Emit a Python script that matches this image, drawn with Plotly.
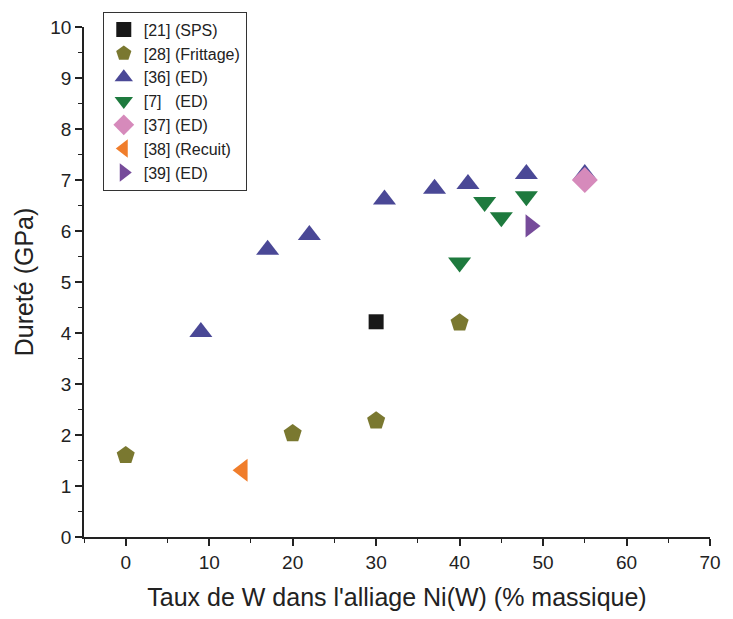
import plotly.graph_objects as go

sps_x = [30]
sps_y = [4.22]
fritt_x = [0, 20, 30, 40]
fritt_y = [1.6, 2.03, 2.28, 4.2]
ed36_x = [9, 17, 22, 31, 37, 41, 48, 55]
ed36_y = [4.02, 5.63, 5.92, 6.62, 6.83, 6.92, 7.12, 7.12]
ed7_x = [40, 43, 45, 48]
ed7_y = [5.38, 6.57, 6.27, 6.68]
ed37_x = [55]
ed37_y = [7.0]
recuit_x = [14]
recuit_y = [1.31]
ed39_x = [48.5]
ed39_y = [6.1]

series = [
    ("[21] (SPS)", sps_x, sps_y, "square", "#181818", 15),
    ("[28] (Frittage)", fritt_x, fritt_y, "pentagon", "#7a7830", 19),
    ("[36] (ED)", ed36_x, ed36_y, "triangle-up", "#4a4896", 20),
    ("[7]   (ED)", ed7_x, ed7_y, "triangle-down", "#1e7a3e", 20),
    ("[37] (ED)", ed37_x, ed37_y, "diamond", "#d68abb", 20),
    ("[38] (Recuit)", recuit_x, recuit_y, "triangle-left", "#f07d2b", 20),
    ("[39] (ED)", ed39_x, ed39_y, "triangle-right", "#764b9a", 20),
]

fig = go.Figure()
for name, xs, ys, sym, col, sz in series:
    fig.add_trace(go.Scatter(x=xs, y=ys, mode="markers", name=name,
                             marker=dict(symbol=sym, color=col, size=sz, line=dict(width=0))))

FONT = "Liberation Sans, Arial"
axis_common = dict(showgrid=False, zeroline=False, showline=True, linecolor="#222",
                   linewidth=1.6, ticks="outside", ticklen=7, tickwidth=1.6, tickcolor="#222",
                   tickfont=dict(family=FONT, size=19, color="#222"))

fig.update_xaxes(range=[-5, 70], dtick=10, tick0=0,
                 minor=dict(dtick=5, ticks="outside", ticklen=4, tickcolor="#222", tickwidth=1.3),
                 title=dict(text="Taux de W dans l'alliage Ni(W) (% massique)",
                            font=dict(family=FONT, size=25, color="#222"),
                            standoff=17),
                 **axis_common)
fig.update_yaxes(range=[0, 10], dtick=1, tick0=0,
                 minor=dict(dtick=0.5, ticks="outside", ticklen=4, tickcolor="#222", tickwidth=1.3),
                 title=dict(text="Dureté (GPa)",
                            font=dict(family=FONT, size=25, color="#222"),
                            standoff=10),
                 **axis_common)

fig.update_layout(
    width=733, height=619,
    margin=dict(l=84, r=16, t=27, b=80),
    plot_bgcolor="white", paper_bgcolor="white",
    showlegend=True,
    legend=dict(x=0.03, y=1.03, xanchor="left", yanchor="top",
                bordercolor="#333", borderwidth=1, bgcolor="white",
                font=dict(family=FONT, size=16, color="#222"),
                itemsizing="trace", itemwidth=30, tracegroupgap=0),
)

fig.write_html("out.html")
